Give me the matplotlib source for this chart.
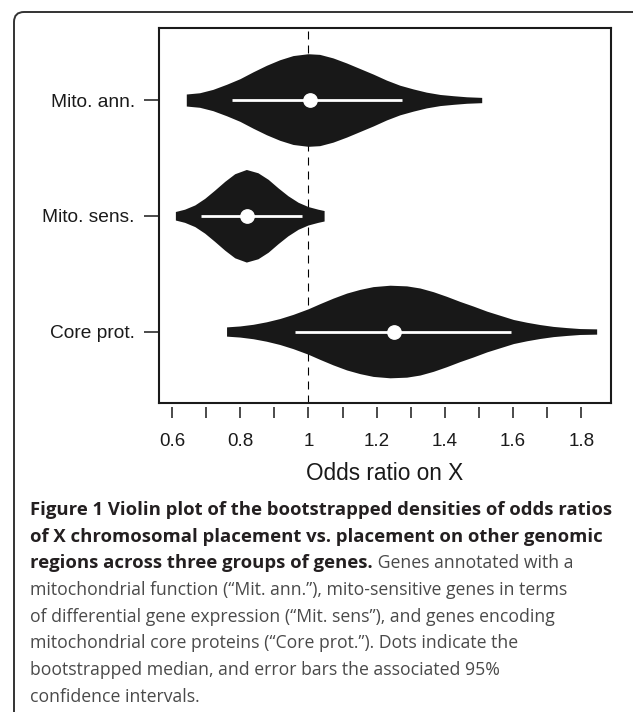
import numpy as np
import matplotlib
matplotlib.use("Agg")
import matplotlib.pyplot as plt
from matplotlib.patches import FancyBboxPatch

plt.rcParams["font.family"] = ["Liberation Sans", "DejaVu Sans"]

# groups, top to bottom
groups = ["Mito. ann.", "Mito. sens.", "Core prot."]
positions = [3, 2, 1]

# violin outlines: odds ratio and relative half-width
ann_x = [0.642, 0.681, 0.720, 0.760, 0.799, 0.838, 0.877, 0.916, 0.955, 0.999, 1.033, 1.072,
         1.112, 1.151, 1.190, 1.229, 1.268, 1.307, 1.346, 1.386, 1.425, 1.464, 1.508]
ann_w = [0.13, 0.157, 0.23, 0.34, 0.46, 0.61, 0.75, 0.87, 0.96, 1.0, 0.986, 0.91,
         0.80, 0.68, 0.56, 0.43, 0.32, 0.24, 0.17, 0.12, 0.093, 0.07, 0.057]

sens_x = [0.610, 0.637, 0.667, 0.696, 0.725, 0.755, 0.784, 0.818, 0.852, 0.882, 0.911,
          0.940, 0.970, 0.999, 1.028, 1.046]
sens_w = [0.092, 0.142, 0.234, 0.376, 0.553, 0.745, 0.908, 1.0, 0.929, 0.787, 0.603,
          0.433, 0.291, 0.199, 0.142, 0.113]

core_x = [0.760, 0.799, 0.838, 0.877, 0.916, 0.955, 0.999, 1.033, 1.072, 1.112, 1.151, 1.190,
          1.239, 1.288, 1.327, 1.366, 1.405, 1.444, 1.483, 1.523, 1.562, 1.601, 1.640, 1.679,
          1.718, 1.757, 1.796, 1.845]
core_w = [0.10, 0.12, 0.156, 0.21, 0.28, 0.37, 0.49, 0.60, 0.72, 0.83, 0.91, 0.97,
          1.0, 0.986, 0.94, 0.86, 0.76, 0.65, 0.55, 0.44, 0.35, 0.26, 0.20, 0.15,
          0.11, 0.085, 0.064, 0.057]

# bootstrapped medians and 95% intervals
medians = [1.006, 0.821, 1.250]
ci_low = [0.777, 0.684, 0.962]
ci_high = [1.273, 0.981, 1.593]

outlines = [(ann_x, ann_w), (sens_x, sens_w), (core_x, core_w)]
half_max = 0.40

fig = plt.figure(figsize=(6.33, 7.12), dpi=100)
ax = fig.add_axes([0.2512, 0.4336, 0.7140, 0.5267])

ax.axvline(1.0, color="black", lw=0.8, dashes=(7.2, 5.4), zorder=1)

for (xs, ws), pos, med, lo, hi in zip(outlines, positions, medians, ci_low, ci_high):
    xs = np.array(xs)
    ws = np.array(ws) * half_max
    ax.fill_between(xs, pos - ws, pos + ws, color="#181818", lw=0, zorder=2)
    ax.plot([lo, hi], [pos, pos], color="white", lw=2.0, solid_capstyle="butt", zorder=3)
    ax.plot(med, pos, "o", color="white", ms=9.6, mec="white", zorder=4)

ax.set_xlim(0.562, 1.887)
ax.set_ylim(0.38, 3.62)

ax.set_xticks(np.arange(0.6, 1.81, 0.2))
ax.set_xticklabels(["0.6", "0.8", "1", "1.2", "1.4", "1.6", "1.8"])
ax.set_xticks(np.arange(0.7, 1.71, 0.2), minor=True)
ax.set_yticks(positions)
ax.set_yticklabels(groups)

ax.tick_params(axis="x", which="both", direction="out", length=8, width=1.1, pad=10.5,
               color="#1a1a1a", labelsize=13.5, labelcolor="#1a1a1a")
ax.tick_params(axis="y", direction="out", length=10.5, width=1.1, pad=7,
               color="#1a1a1a", labelsize=13.8, labelcolor="#1a1a1a")

for side in ["top", "right", "left"]:
    ax.spines[side].set_linewidth(1.5)
    ax.spines[side].set_color("#1a1a1a")
ax.spines["bottom"].set_position(("outward", 3))
ax.spines["bottom"].set_color("none")
# bottom edge of the box, the ticks sit a little below it
ax.axhline(0.38, color="#1a1a1a", lw=1.5, clip_on=False, zorder=5)

ax.set_xlabel("Odds ratio on X", fontsize=16.3, color="#1a1a1a", labelpad=8.3)

# frame around the whole figure
frame = FancyBboxPatch((0.14, -0.2), 6.30, 7.2, boxstyle="round,pad=0,rounding_size=0.1",
                       transform=fig.dpi_scale_trans, fill=False, ec="#333333", lw=1.4,
                       clip_on=False)
fig.patches.append(frame)

# caption
cap_font = "Open Sans"
bold_size = 13.3
reg_size = 12.7
bold_col = "#231f20"
reg_col = "#4a4a4a"
x0 = 30.5 / 633
line_y = [510, 536.7, 563.4, 590, 616.7, 643.4, 670, 696.7]

bold_lines = [
    "Figure 1 Violin plot of the bootstrapped densities of odds ratios",
    "of X chromosomal placement vs. placement on other genomic",
]
reg_lines = [
    "mitochondrial function (\u201cMit. ann.\u201d), mito-sensitive genes in terms",
    "of differential gene expression (\u201cMit. sens\u201d), and genes encoding",
    "mitochondrial core proteins (\u201cCore prot.\u201d). Dots indicate the",
    "bootstrapped median, and error bars the associated 95%",
    "confidence intervals.",
]

for i, line in enumerate(bold_lines):
    fig.text(x0, 1 - line_y[i] / 712, line, family=cap_font, weight="bold",
             fontsize=bold_size, color=bold_col, va="center", ha="left")

t = fig.text(x0, 1 - line_y[2] / 712, "regions across three groups of genes.", family=cap_font,
             weight="bold", fontsize=bold_size, color=bold_col, va="center", ha="left")
renderer = fig.canvas.get_renderer()
bb = t.get_window_extent(renderer=renderer)
fig.text(bb.x1 / fig.bbox.width, 1 - line_y[2] / 712, " Genes annotated with a", family=cap_font,
         fontsize=reg_size, color=reg_col, va="center", ha="left")

for i, line in enumerate(reg_lines):
    fig.text(x0, 1 - line_y[i + 3] / 712, line, family=cap_font,
             fontsize=reg_size, color=reg_col, va="center", ha="left")

fig.savefig("out.png", dpi=100)
